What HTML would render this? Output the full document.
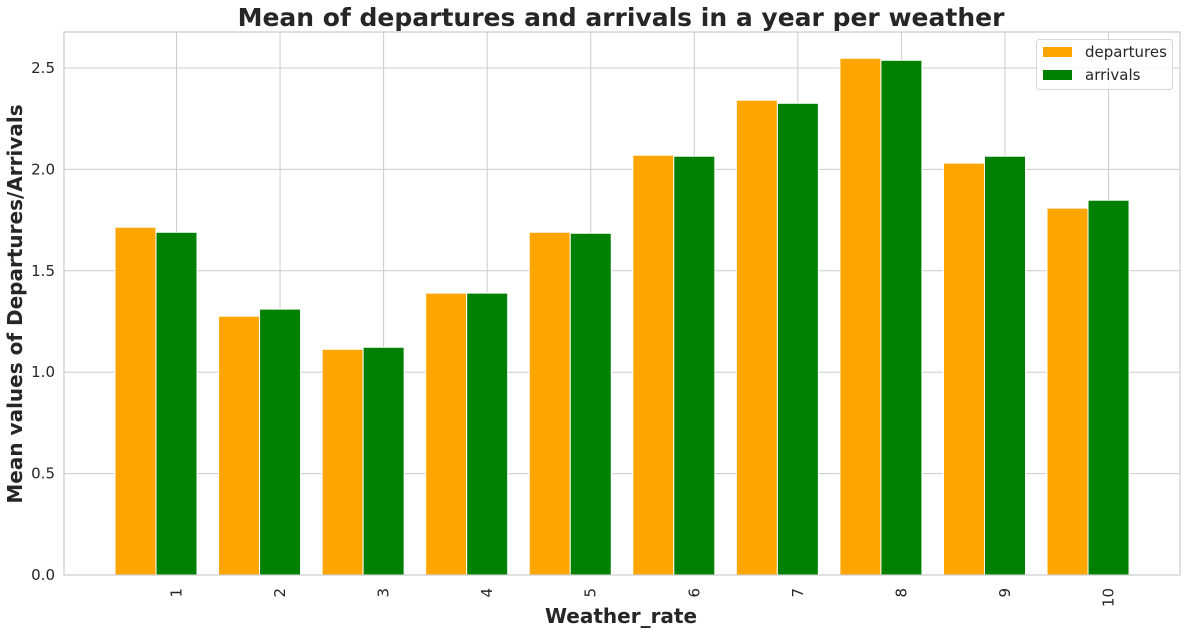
<!DOCTYPE html>
<html><head><meta charset="utf-8"><style>
body{margin:0;background:#fff;font-family:"Liberation Sans","DejaVu Sans",sans-serif;}
</style></head><body>
<svg id="chart" width="1186" height="635" xmlns="http://www.w3.org/2000/svg" font-family="DejaVu Sans, Liberation Sans, sans-serif"></svg>
<script>
const categories = ["1","2","3","4","5","6","7","8","9","10"];
const departures = [1.715,1.276,1.113,1.39,1.69,2.07,2.341,2.548,2.031,1.809];
const arrivals = [1.69,1.311,1.123,1.39,1.685,2.065,2.326,2.538,2.065,1.848];
const yTicks = [0,0.5,1.0,1.5,2.0,2.5];
const yTickLabels = ["0.0","0.5","1.0","1.5","2.0","2.5"];

const svg = document.getElementById('chart');
const NS = 'http://www.w3.org/2000/svg';
const L=64,R=1180,T=32,B=575;
const y = v => 575 - v*202.8;
const x = i => 176.5 + i*103.56;
const bw = 41;
function mk(tag, attrs, parent){const e=document.createElementNS(NS,tag);for(const k in attrs)e.setAttribute(k,attrs[k]);(parent||svg).appendChild(e);return e;}

yTicks.forEach((t,i)=>{
  const g=mk('line',{x1:L,x2:R,y1:y(t),y2:y(t),stroke:'#cccccc','stroke-width':1});
  
  
  const tx=mk('text',{x:55,y:y(t)+5,'text-anchor':'end','font-size':15,fill:'#262626'});
  tx.textContent=yTickLabels[i];
  
  
});
categories.forEach((c,i)=>{
  const g=mk('line',{x1:x(i),x2:x(i),y1:T,y2:B,stroke:'#cccccc','stroke-width':1});
  
  
});
categories.forEach((c,i)=>{
  const d=mk('rect',{x:x(i)-bw*1.5,y:y(departures[i]),width:bw,height:B-y(departures[i]),fill:'#ffa500',stroke:'#fff','stroke-width':1});
  
  
  const a=mk('rect',{x:x(i)-bw*0.5,y:y(arrivals[i]),width:bw,height:B-y(arrivals[i]),fill:'#008000',stroke:'#fff','stroke-width':1});
  
  
  const tx=mk('text',{transform:`translate(${x(i)+5},588) rotate(-90)`,'text-anchor':'end','font-size':15,fill:'#262626'});
  tx.textContent=c;
  
  
});
const fr=mk('rect',{x:L,y:T,width:R-L,height:B-T,fill:'none',stroke:'#cccccc','stroke-width':1.2});


const ti=mk('text',{x:621,y:26,'text-anchor':'middle','font-size':25,'font-weight':'bold',fill:'#262626'});
ti.textContent='Mean of departures and arrivals in a year per weather';


const xt=mk('text',{x:621,y:623,'text-anchor':'middle','font-size':20,'font-weight':'bold',fill:'#262626'});
xt.textContent='Weather_rate';


const yt=mk('text',{transform:'translate(22,304) rotate(-90)','text-anchor':'middle','font-size':20,'font-weight':'bold',fill:'#262626'});
yt.textContent='Mean values of Departures/Arrivals';


const lg=mk('g',{});


mk('rect',{x:1036.5,y:39.5,width:136,height:50,rx:3,fill:'#fff','fill-opacity':0.8,stroke:'#d6d6d6'},lg);
[['departures','#ffa500',47],['arrivals','#008000',70]].forEach(([n,col,yy])=>{
  const s=mk('rect',{x:1043,y:yy,width:29,height:10,fill:col},lg);
  
  
  const t=mk('text',{x:1085,y:yy+10,'font-size':15,fill:'#262626'},lg);
  t.textContent=n;
  
  
});
</script>
</body></html>
